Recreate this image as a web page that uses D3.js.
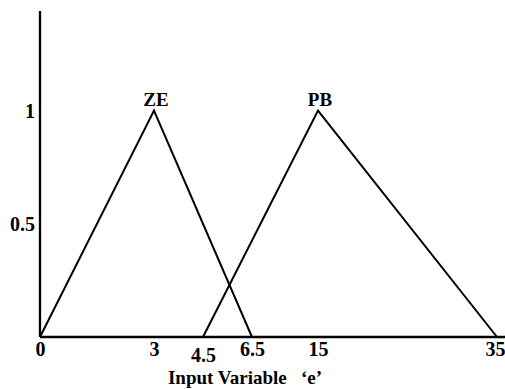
<!DOCTYPE html>
<html>
<head>
<meta charset="utf-8">
<script src="https://cdn.jsdelivr.net/npm/d3@7"></script>
<style>
  body { margin: 0; background: #fff; }
  svg { display: block; }
  text { font-family: "Liberation Serif", "Times New Roman", serif; font-weight: bold; fill: #000; }
</style>
</head>
<body>
<div id="chart"></div>
<script>
// membership functions (triangles): [left foot, peak, right foot]
const setNames = ["ZE", "PB"];
const setPoints = [[0, 3, 6.5], [4.5, 15, 35]];
const xTicks = [0, 3, 4.5, 6.5, 15, 35];
const xTickLabels = ["0", "3", "4.5", "6.5", "15", "35"];
const yTicks = [0.5, 1];
const yTickLabels = ["0.5", "1"];
const xTitle = "Input Variable   \u2018e\u2019";

const width = 505, height = 389;

const svg = d3.select("#chart").append("svg")
    .attr("width", width)
    .attr("height", height);

// the original axis is not to scale, so map each break point separately
const x = d3.scaleLinear()
    .domain(xTicks)
    .range([40, 154, 203, 252, 318, 497]);

const y = d3.scaleLinear()
    .domain([0, 1.44])
    .range([337, 11]);

// axes
svg.append("line")
    .attr("x1", x(0)).attr("x2", width)
    .attr("y1", y(0)).attr("y2", y(0))
    .attr("stroke", "#000").attr("stroke-width", 2.3);

svg.append("line")
    .attr("x1", x(0)).attr("x2", x(0))
    .attr("y1", y(0)).attr("y2", y.range()[1])
    .attr("stroke", "#000").attr("stroke-width", 2.3);

const xAxis = svg.append("g")
    .attr("transform", `translate(0,${y(0)})`)
    .call(d3.axisBottom(x)
        .tickValues(xTicks)
        .tickFormat((d, i) => xTickLabels[i])
        .tickSize(0)
        .tickPadding(5));
xAxis.select(".domain").remove();
xAxis.selectAll("text")
    .attr("dy", (d) => d === 4.5 ? "1.0em" : "0.71em")
    .style("font-size", "20px")
    .style("font-family", null);
// last label sits against the right edge; keep it inside the page
xAxis.selectAll(".tick")
    .filter(d => d === xTicks[xTicks.length - 1])
    .select("text")
    .attr("text-anchor", "end")
    .attr("x", width - x(35));

const yAxis = svg.append("g")
    .attr("transform", `translate(${x(0)},0)`)
    .call(d3.axisLeft(y)
        .tickValues(yTicks)
        .tickFormat((d, i) => yTickLabels[i])
        .tickSize(0)
        .tickPadding(5));
yAxis.select(".domain").remove();
yAxis.selectAll("text")
    .style("font-size", "20px")
    .style("font-family", null);

// triangles
const line = d3.line()
    .x(d => x(d[0]))
    .y(d => y(d[1]));

svg.selectAll(".mf")
    .data(setPoints)
    .join("path")
    .attr("class", "mf")
    .attr("d", d => line([[d[0], 0], [d[1], 1], [d[2], 0]]))
    .attr("fill", "none")
    .attr("stroke", "#000")
    .attr("stroke-width", 2)
    .attr("stroke-linejoin", "miter");

svg.selectAll(".mf-label")
    .data(setPoints)
    .join("text")
    .attr("class", "mf-label")
    .attr("x", d => x(d[1]) + 2)
    .attr("y", y(1) - 5)
    .attr("text-anchor", "middle")
    .style("font-size", "19px")
    .text((d, i) => setNames[i]);

svg.append("text")
    .attr("x", 245)
    .attr("y", 384)
    .attr("text-anchor", "middle")
    .style("font-size", "19px")
    .style("white-space", "pre")
    .text(xTitle);
</script>
</body>
</html>
